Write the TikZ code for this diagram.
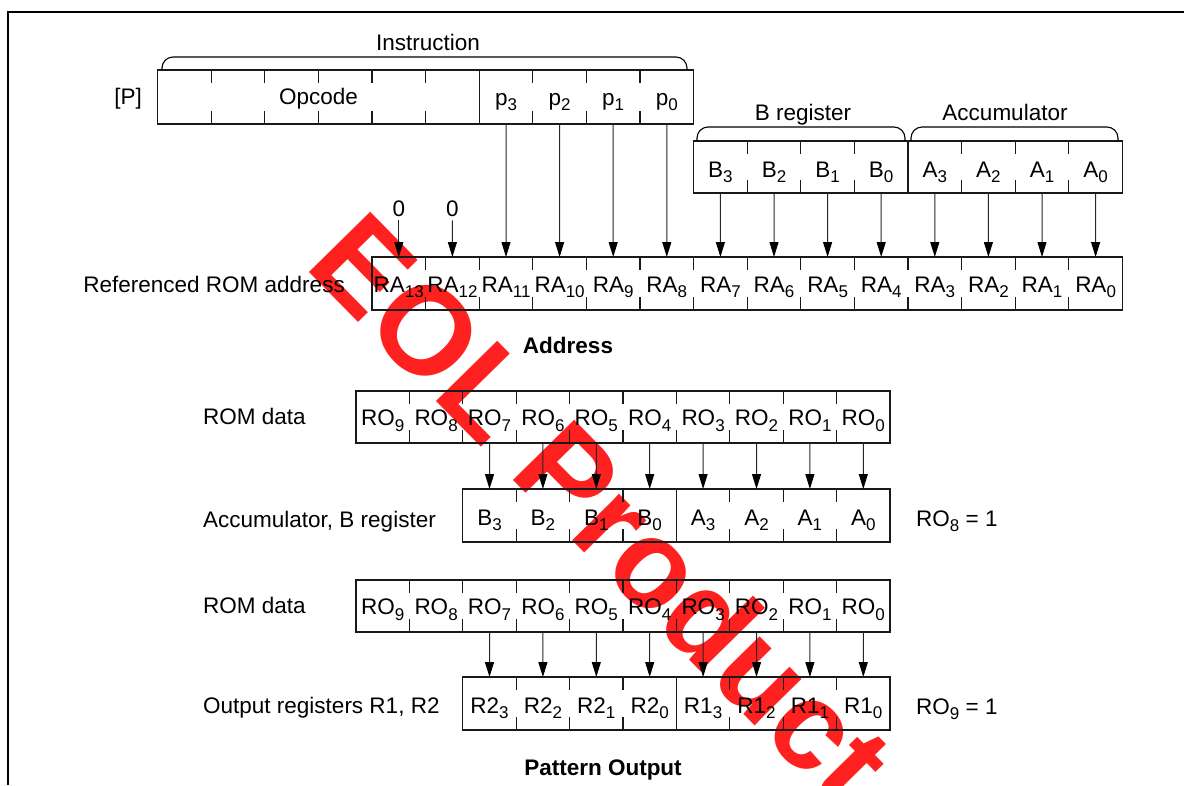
\documentclass[tikz,border=0pt]{standalone}
\usepackage{fontspec}
\setmainfont{Liberation Sans}
\usetikzlibrary{arrows.meta}
\newcommand{\lo}[1]{\raisebox{-5.5pt}{\fontsize{17}{17}\selectfont #1}}
\begin{document}
\begin{tikzpicture}[x=1pt,y=-1pt,
  every node/.style={font=\fontsize{22.5}{27}\selectfont, inner sep=0pt},
  regbox/.style={draw=black!90, line width=1.2pt},
  tk/.style={draw=black!90, line width=1.2pt},
  arrw/.style={draw=black!85, line width=1pt, -{Triangle[length=15pt,width=9pt,color=black]}},
  brc/.style={line width=1.1pt, rounded corners=11pt},
  bl/.style={anchor=base},
]
\useasboundingbox (0,0) rectangle (1184,785);
% watermark
\node[rotate=-45.5, text=red!95!white, opacity=0.92, font=\bfseries\fontsize{125}{125}\selectfont] (wm) at (603,508) {EOL Product};
% frame
\draw[line width=1.2pt] (8,785) -- (8,12) -- (1184,12);

% ---------- Instruction register ----------
\draw[regbox] (157.6,70) rectangle (693.6,124);
\foreach \i in {1,...,9} {\draw[tk] (157.6+\i*53.6,70) -- ++(0,13) (157.6+\i*53.6,124) -- ++(0,-13);}
\draw[tk] (479.2,70) -- (479.2,124);
\draw[brc] (162,70) -- (162,57) -- (687,57) -- (687,70);
\node[bl] (instr) at (428,50) {Instruction};
\node[anchor=base east] (plab) at (142,104) {[P]};
\node[bl] (opc) at (318.4,104) {Opcode};
\foreach \k [count=\j from 6] in {3,2,1,0} {
  \node[bl] (p\k) at (157.6+\j*53.6+26.8,105) {p\lo{\k}};
  \coordinate (pb\k) at (157.6+\j*53.6+26.8,124);
}

% ---------- B register / Accumulator ----------
\draw[regbox] (693.6,141) rectangle (1122.4,193);
\foreach \i in {1,...,7} {\draw[tk] (693.6+\i*53.6,141) -- ++(0,13) (693.6+\i*53.6,193) -- ++(0,-13);}
\draw[tk] (908,141) -- (908,193);
\draw[brc] (697,141) -- (697,127) -- (905,127) -- (905,141);
\draw[brc] (911,141) -- (911,127) -- (1118,127) -- (1118,141);
\node[bl] (breg) at (803,120) {B register};
\node[bl] (accl) at (1005,120) {Accumulator};
\foreach \k [count=\j from 0] in {3,2,1,0} {
  \node[bl] (bt\k) at (693.6+\j*53.6+26.8,177) {B\lo{\k}};
  \coordinate (btb\k) at (693.6+\j*53.6+26.8,193);
}
\foreach \k [count=\j from 4] in {3,2,1,0} {
  \node[bl] (at\k) at (693.6+\j*53.6+26.8,177) {A\lo{\k}};
  \coordinate (atb\k) at (693.6+\j*53.6+26.8,193);
}

% ---------- Referenced ROM address ----------
\draw[regbox] (372,257) rectangle (1122.4,310);
\foreach \i in {1,...,13} {\draw[tk] (372+\i*53.6,257) -- ++(0,13) (372+\i*53.6,310) -- ++(0,-13);}
\foreach \k [count=\j from 0] in {13,12,...,0} {
  \node[bl] (ra\k) at (372+\j*53.6+26.8,292) {RA\lo{\k}};
  \coordinate (rat\k) at (372+\j*53.6+26.8,257);
}
\node[anchor=base east] (refl) at (345,292) {Referenced ROM address};
\node[bl] (z13) at (398.8,216) {0};
\node[bl] (z12) at (452.4,216) {0};
\draw[arrw] ([yshift=-4pt]z13.south) -- (rat13);
\draw[arrw] ([yshift=-4pt]z12.south) -- (rat12);
\foreach \k/\r in {3/11,2/10,1/9,0/8} {\draw[arrw] (pb\k) -- (rat\r);}
\foreach \k/\r in {3/7,2/6,1/5,0/4} {\draw[arrw] (btb\k) -- (rat\r);}
\foreach \k in {3,2,1,0} {\draw[arrw] (atb\k) -- (rat\k);}
\node[bl, font=\bfseries\fontsize{22.5}{27}\selectfont] (addr) at (568,353) {Address};

% ---------- ROM data (1) ----------
\node[anchor=base west] (romd1) at (203,424) {ROM data};
\draw[regbox] (356,391) rectangle (890,443);
\foreach \i in {1,...,9} {\draw[tk] (356+\i*53.4,391) -- ++(0,13) (356+\i*53.4,443) -- ++(0,-13);}
\foreach \k [count=\j from 0] in {9,8,...,0} {
  \node[bl] (rox\k) at (356+\j*53.4+26.7,425.5) {RO\lo{\k}};
  \coordinate (roxb\k) at (356+\j*53.4+26.7,443);
}
% ---------- Accumulator, B register ----------
\node[anchor=base west] (accbl) at (203,527) {Accumulator, B register};
\draw[regbox] (462.8,489) rectangle (890,542);
\foreach \i in {1,...,7} {\draw[tk] (462.8+\i*53.4,489) -- ++(0,13) (462.8+\i*53.4,542) -- ++(0,-13);}
\draw[tk] (676.4,489) -- (676.4,542);
\foreach \k [count=\j from 0] in {3,2,1,0} {
  \node[bl] (lb\k) at (462.8+\j*53.4+26.7,525) {B\lo{\k}};
  \coordinate (lbt\k) at (462.8+\j*53.4+26.7,489);
}
\foreach \k [count=\j from 4] in {3,2,1,0} {
  \node[bl] (la\k) at (462.8+\j*53.4+26.7,525) {A\lo{\k}};
  \coordinate (lat\k) at (462.8+\j*53.4+26.7,489);
}
\foreach \r/\k in {7/3,6/2,5/1,4/0} {\draw[arrw] (roxb\r) -- (lbt\k);}
\foreach \k in {3,2,1,0} {\draw[arrw] (roxb\k) -- (lat\k);}
\node[anchor=base west] (ro8) at (916,526) {RO\lo{8} = 1};

% ---------- ROM data (2) ----------
\node[anchor=base west] (romd2) at (203,613) {ROM data};
\draw[regbox] (356,580) rectangle (890,632);
\foreach \i in {1,...,9} {\draw[tk] (356+\i*53.4,580) -- ++(0,13) (356+\i*53.4,632) -- ++(0,-13);}
\foreach \k [count=\j from 0] in {9,8,...,0} {
  \node[bl] (roy\k) at (356+\j*53.4+26.7,614.5) {RO\lo{\k}};
  \coordinate (royb\k) at (356+\j*53.4+26.7,632);
}
% ---------- Output registers ----------
\node[anchor=base west] (outl) at (203,713) {Output registers R1, R2};
\draw[regbox] (462.8,677) rectangle (890,730);
\foreach \i in {1,...,7} {\draw[tk] (462.8+\i*53.4,677) -- ++(0,13) (462.8+\i*53.4,730) -- ++(0,-13);}
\draw[tk] (676.4,677) -- (676.4,730);
\foreach \k [count=\j from 0] in {3,2,1,0} {
  \node[bl] (rb\k) at (462.8+\j*53.4+26.7,713) {R2\lo{\k}};
  \coordinate (rbt\k) at (462.8+\j*53.4+26.7,677);
}
\foreach \k [count=\j from 4] in {3,2,1,0} {
  \node[bl] (rc\k) at (462.8+\j*53.4+26.7,713) {R1\lo{\k}};
  \coordinate (rct\k) at (462.8+\j*53.4+26.7,677);
}
\foreach \r/\k in {7/3,6/2,5/1,4/0} {\draw[arrw] (royb\r) -- (rbt\k);}
\foreach \k in {3,2,1,0} {\draw[arrw] (royb\k) -- (rct\k);}
\node[anchor=base west] (ro9) at (916,714) {RO\lo{9} = 1};
\node[bl, font=\bfseries\fontsize{22.5}{27}\selectfont] (patt) at (603,775) {Pattern Output};
\end{tikzpicture}
\end{document}
